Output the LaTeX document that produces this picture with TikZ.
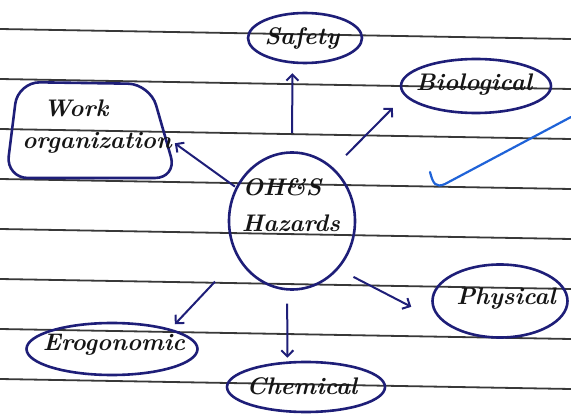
\documentclass[tikz,border=0pt]{standalone}
\usetikzlibrary{arrows.meta,shapes.geometric,calc}
\definecolor{ink}{HTML}{1E1E78}
\definecolor{pen}{HTML}{151515}
\definecolor{rulegray}{HTML}{383838}
\definecolor{tickblue}{HTML}{1F63D8}
\begin{document}
\begin{tikzpicture}[x=1pt,y=-1pt,
  ell/.style={ellipse, draw=ink, line width=2.6pt, inner sep=0pt},
  txt/.style={text=pen, font=\fontsize{24}{27}\selectfont\bfseries\itshape, inner sep=0pt},
  arr/.style={draw=ink, line width=2pt, -{Straight Barb[length=6pt,width=12pt]}},
  ruleline/.style={draw=rulegray, line width=1.8pt}]
\useasboundingbox[fill=white] (0,0) rectangle (571,417);
% ruled paper
\foreach \yy in {29,79,129,179,229,279,329,379} \draw[ruleline] (0,\yy) -- (571,\yy+10);

% nodes (shapes)
\node[ell, minimum width=126pt, minimum height=137pt] (hz) at (292,221) {};
\node[ell, minimum width=114pt, minimum height=50pt] (saf) at (305,38) {};
\node[ell, minimum width=150pt, minimum height=54pt] (bio) at (476,86) {};
\node[ell, minimum width=135pt, minimum height=73pt] (phy) at (500,301) {};
\node[ell, minimum width=171pt, minimum height=52pt] (ero) at (112,349) {};
\node[ell, minimum width=158pt, minimum height=50pt] (che) at (306,387) {};
\node[rectangle, minimum width=165pt, minimum height=95pt, inner sep=0pt] (wo) at (90.5,130.5) {};
\draw[draw=ink, line width=2.6pt, rounded corners=22pt] (18,82) -- (150,84) -- (177,178) -- (6,178) -- cycle;

% texts
\node[txt] (hzA) at (282,187) {OH\&S};
\node[txt] (hzB) at (291,223) {Hazards};
\node[txt] (safT) at (302,38) {Safety};
\node[txt] (bioT) at (474,85) {Biological};
\node[txt] (phyT) at (506,299) {Physical};
\node[txt] (eroT) at (114,345) {Erogonomic};
\node[txt] (cheT) at (302,386) {Chemical};
\node[txt] (woA) at (76,108) {Work};
\node[txt] (woB) at (97,143) {organization};

% connectors
\draw[arr, shorten <=18pt, shorten >=9.5pt] (hz.90) -- (saf.244.4);
\draw[arr, shorten <=17.7pt, shorten >=16.6pt] (hz.52.6) -- (bio.188.7);
\draw[arr, shorten <=16.8pt, shorten >=42pt] (hz.-46.4) -- (phy.206.6);
\draw[arr, shorten <=13pt, shorten >=3.7pt] (hz.266.6) -- (che.126.5);
\draw[arr, shorten <=32.6pt, shorten >=6.3pt] (hz.214.6) -- (ero.19);
\draw[arr, shorten <=1pt, shorten >=2pt] (hz.149) -- (wo.-8.4);

% blue tick mark
\draw[draw=tickblue, line width=2.2pt, line cap=round] (430,172) .. controls (433,184) and (436,188) .. (445,184) -- (571,117);
\end{tikzpicture}
\end{document}
